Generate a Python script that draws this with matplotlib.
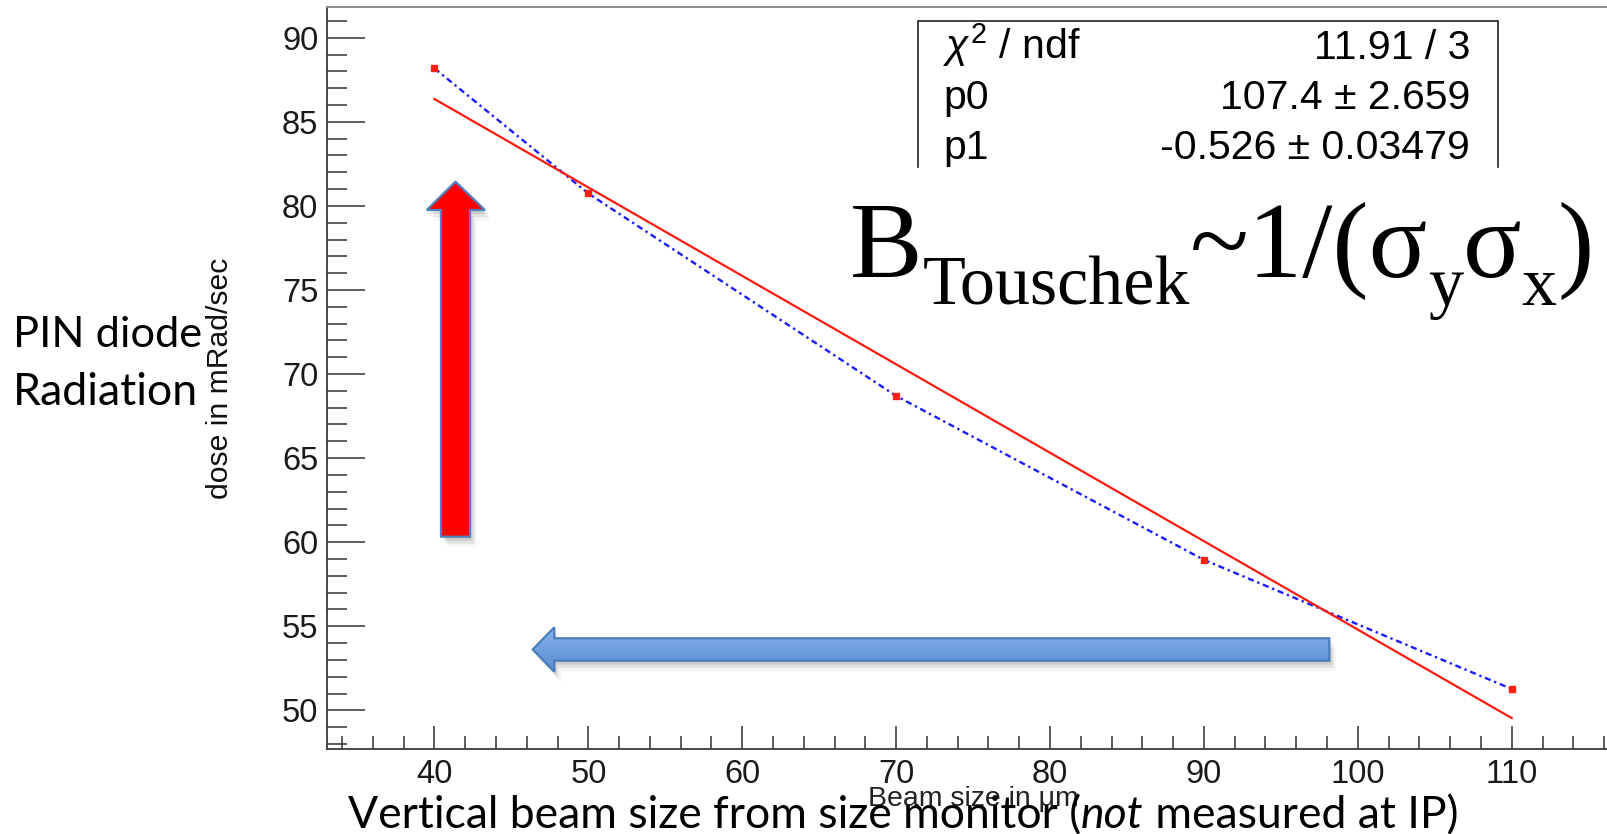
import numpy as np
import matplotlib
matplotlib.use("Agg")
import matplotlib.pyplot as plt
from matplotlib.patches import Polygon
from matplotlib.ticker import MultipleLocator, FixedLocator

# Measured dose versus beam size
beam_size = [40, 50, 70, 90, 110]
dose = [88.18, 80.74, 68.70, 58.95, 51.27]

# Linear fit result (pol1)
chi2 = 11.91
ndf = 3
p0, p0_err = 107.4, 2.659
p1, p1_err = -0.526, 0.03479

x_ticks = [40, 50, 60, 70, 80, 90, 100, 110]
y_ticks = [50, 55, 60, 65, 70, 75, 80, 85, 90]

plt.rcParams["font.family"] = ["Liberation Sans", "DejaVu Sans"]
plt.rcParams["mathtext.fontset"] = "custom"
plt.rcParams["mathtext.rm"] = "Liberation Sans"
plt.rcParams["mathtext.it"] = "Liberation Sans:italic"

W, H = 1608, 834
fig = plt.figure(figsize=(W / 100, H / 100), dpi=100)
fig.patch.set_facecolor("white")


def fx(px):
    return px / W


def fy(py):
    return 1 - py / H


# ---- main ROOT-style frame -------------------------------------------
left_px, right_px, top_px, bot_px = 326.7, 1620.0, 7.0, 749.0
ax = fig.add_axes([fx(left_px), fy(bot_px), (right_px - left_px) / W,
                   (bot_px - top_px) / H], zorder=0)
px_per_x = 15.39
ax.set_xlim(33.0, 33.0 + (right_px - left_px) / px_per_x)
ax.set_ylim(47.70, 91.83)

ax.xaxis.set_major_locator(FixedLocator(x_ticks))
ax.xaxis.set_minor_locator(MultipleLocator(2))
ax.yaxis.set_major_locator(FixedLocator(y_ticks))
ax.yaxis.set_minor_locator(MultipleLocator(1))

for side in ("left", "bottom"):
    ax.spines[side].set_color("#3a3a3a")
    ax.spines[side].set_linewidth(1.3)
ax.spines["top"].set_color("#8a8a8a")
ax.spines["top"].set_linewidth(1.4)
ax.spines["right"].set_visible(False)

ax.tick_params(axis="y", which="major", direction="in", length=27.4,
               width=1.1, color="#333333", pad=6.0, labelsize=23.5)
ax.tick_params(axis="y", which="minor", direction="in", length=14.4,
               width=1.1, color="#333333")
ax.tick_params(axis="x", which="major", direction="in", length=16.6,
               width=1.1, color="#333333", pad=7.0, labelsize=23.5)
ax.tick_params(axis="x", which="minor", direction="in", length=9.1,
               width=1.1, color="#333333")
ax.tick_params(top=False, right=False, which="both")
for lab in ax.get_xticklabels() + ax.get_yticklabels():
    lab.set_color("#1a1a1a")

# graph (dotted blue polyline with red square markers) and the fit line
ax.plot(beam_size, dose, color="#1a1aff", lw=1.7,
        linestyle=(0, (2.6, 1.6, 1.0, 1.6)), zorder=3)
ax.plot(beam_size, dose, linestyle="none", marker="s", markersize=4.2,
        color="#ff2010", zorder=5)
fit_x = np.array([beam_size[0], beam_size[-1]], dtype=float)
ax.plot(fit_x, p0 + p1 * fit_x, color="#ff1a10", lw=1.6, zorder=4)

# ---- overlay in pixel coordinates for annotations -------------------
ov = fig.add_axes([0, 0, 1, 1], zorder=1)
ov.set_xlim(0, W)
ov.set_ylim(H, 0)
ov.axis("off")
ov.patch.set_alpha(0)

renderer = fig.canvas.get_renderer()


def compose(pieces, x0, y0, target_w=None, zorder=6):
    """Lay out consecutive text runs on one baseline (pixel coordinates)."""
    def layout(scale):
        arts = []
        x = x0
        for s, size, dy, kw in pieces:
            t = ov.text(x, y0 + dy * scale, s, fontsize=size * scale,
                        va="baseline", ha="left", zorder=zorder, **kw)
            x += t.get_window_extent(renderer).width
            arts.append(t)
        return arts, x - x0
    arts, w = layout(1.0)
    if target_w is not None:
        for a in arts:
            a.remove()
        arts, w = layout(target_w / w)
    return arts


# stats box (bottom edge hidden)
bx0, bx1, by0, by1 = 918, 1498, 20.7, 167
ov.plot([bx0, bx0, bx1, bx1], [by1, by0, by0, by1], color="#222222",
        lw=1.2, solid_joinstyle="miter", zorder=4)
stat_rows = [
    (r"$\chi^{2}$ / ndf", f"{chi2:.2f} / {ndf}"),
    ("p0", f"{p0:.1f} \u00b1 {p0_err:.3f}"),
    ("p1", f"{p1:.3f} \u00b1 {p1_err:.5f}"),
]
for i, (name, val) in enumerate(stat_rows):
    yb = 59 + i * 50
    ov.text(943, yb, name, fontsize=29.5, va="baseline", ha="left",
            color="black", zorder=6)
    ov.text(1470, yb, val, fontsize=29.5, va="baseline", ha="right",
            color="black", zorder=6)

# axis titles
ov.text(220, 378, "dose in mRad/sec", rotation=90, fontsize=21.7,
        ha="center", va="center", color="#111111", zorder=6)
ov.text(973, 799, "Beam size in \u03bcm", fontsize=20.5, ha="center",
        va="center", color="#222222", zorder=6)

# big formula
serif = dict(family=["Liberation Serif", "DejaVu Serif"], color="black")
big, small, drop = 76.0, 49.0, 27.0
compose([
    ("B", big, 0, serif),
    ("Touschek", small, drop, serif),
    ("~1/(\u03c3", big, 0, serif),
    ("y", small, drop, serif),
    ("\u03c3", big, 0, serif),
    ("x", small, drop, serif),
    (")", big, 0, serif),
], 850, 277, target_w=743)

# slide captions
cal = dict(family=["Lato", "DejaVu Sans"], color="black")
cal_it = dict(family=["Lato", "DejaVu Sans"], style="italic", color="black")
compose([("PIN diode", 30, 0, cal)], 13, 347, target_w=188)
compose([("Radiation", 30, 0, cal)], 13, 405, target_w=185)
compose([
    ("Vertical beam size from size monitor (", 30, 0, cal),
    ("not", 30, 0, cal_it),
    (" measured at IP)", 30, 0, cal),
], 348, 828, target_w=1110, zorder=8)


# arrows (pixel polygons with a soft shadow)
def shadow(pts, dx=2.5, dy=4.0):
    for k, a in ((1.0, 0.10), (1.8, 0.07), (2.6, 0.04)):
        ov.add_patch(Polygon([(x + dx * k, y + dy * k) for x, y in pts],
                             closed=True, facecolor="black", edgecolor="none",
                             alpha=a, zorder=2))


up_pts = [(455.5, 181.7), (485, 210), (470, 210), (470, 536.7),
          (441, 536.7), (441, 210), (426.7, 210)]
shadow(up_pts)
ov.add_patch(Polygon(up_pts, closed=True, facecolor="#ff0000",
                     edgecolor="#4f81bd", lw=1.6, joinstyle="miter", zorder=3))

left_pts = [(532.7, 649.5), (554.3, 627.3), (554.3, 638.3), (1329.3, 638.3),
            (1329.3, 660.7), (554.3, 660.7), (554.3, 671.7)]
shadow(left_pts)
body = Polygon(left_pts, closed=True, facecolor="none", edgecolor="none",
               zorder=3)
ov.add_patch(body)
grad = np.linspace(0, 1, 64).reshape(-1, 1)
img = ov.imshow(grad, cmap=matplotlib.colors.LinearSegmentedColormap.from_list(
    "armbl", ["#8cb4ec", "#6f9fe0", "#5a8bd2"]),
    extent=[530, 1332, 672, 627], aspect="auto", zorder=3,
    interpolation="bilinear")
img.set_clip_path(body)
ov.add_patch(Polygon(left_pts, closed=True, facecolor="none",
                     edgecolor="#4a7ebb", lw=1.6, joinstyle="miter", zorder=4))
ov.set_xlim(0, W)
ov.set_ylim(H, 0)

fig.savefig("out.png", dpi=100, facecolor="white")
